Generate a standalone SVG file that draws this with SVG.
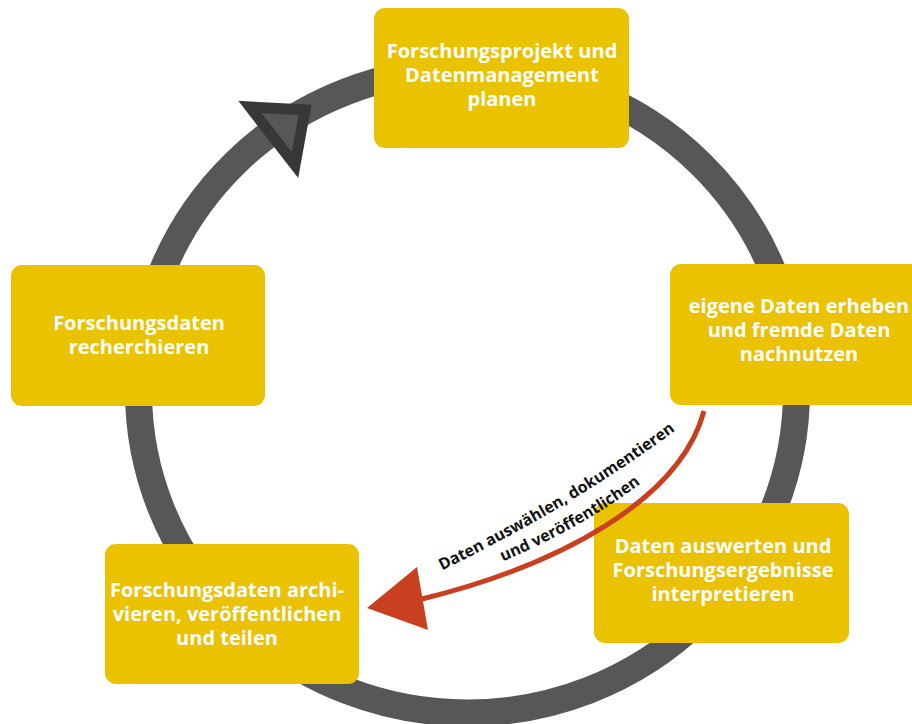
<svg xmlns="http://www.w3.org/2000/svg" width="912" height="724" viewBox="0 0 912 724">
<style>
.box{fill:#ebc200}
.lbl{font-family:"Open Sans","Liberation Sans",sans-serif;font-weight:700;font-size:20px;fill:#ffffff;text-anchor:middle}
.cur{font-family:"Open Sans","Liberation Sans",sans-serif;font-weight:700;font-size:16px;fill:#111111;text-anchor:middle}
</style>
<defs>
<path id="p1" d="M409,586 L437,573 Q575,506 680,427 L704,408"/>
<path id="p2" d="M471,575 L499,563 Q581,529 644,481 L668,463"/>
</defs>
<rect width="912" height="724" fill="#ffffff"/>
<g id="connectors">
<ellipse cx="467.5" cy="391" rx="329" ry="322" fill="none" stroke="#575757" stroke-width="27"/>
<path d="M250,107 L305,110 L295,165 Z" fill="#575757" stroke="#383838" stroke-width="11" stroke-linejoin="miter"/>
</g>
<g id="n1"><rect class="box" x="374" y="8" width="255" height="140" rx="11"/>
<text class="lbl" x="502" y="58">Forschungsprojekt und</text>
<text class="lbl" x="502" y="82">Datenmanagement</text>
<text class="lbl" x="502" y="106">planen</text></g>
<g id="n2"><rect class="box" x="670" y="264" width="260" height="141" rx="11"/>
<text class="lbl" x="799" y="313">eigene Daten erheben</text>
<text class="lbl" x="799" y="337">und fremde Daten</text>
<text class="lbl" x="799" y="361">nachnutzen</text></g>
<g id="n3"><rect class="box" x="594" y="503" width="255" height="140" rx="11"/>
<text class="lbl" x="723" y="553">Daten auswerten und</text>
<text class="lbl" x="723" y="577">Forschungsergebnisse</text>
<text class="lbl" x="723" y="601">interpretieren</text></g>
<g id="n4"><rect class="box" x="105" y="544" width="254" height="140" rx="11"/>
<text class="lbl" x="227" y="597">Forschungsdaten archi-</text>
<text class="lbl" x="227" y="621">vieren, veröffentlichen</text>
<text class="lbl" x="227" y="645">und teilen</text></g>
<g id="n5"><rect class="box" x="11" y="265" width="254" height="141" rx="11"/>
<text class="lbl" x="139" y="330">Forschungsdaten</text>
<text class="lbl" x="139" y="354">recherchieren</text></g>
<g id="arrow">
<path d="M704,411 C680,500 560,565 422,599" fill="none" stroke="#c8401f" stroke-width="5"/>
<polygon points="367,608 417,567 428,630" fill="#c8401f"/>
<text class="cur"><textPath href="#p1" startOffset="50%">Daten auswählen, dokumentieren</textPath></text>
<text class="cur"><textPath href="#p2" startOffset="50%">und veröffentlichen</textPath></text>
</g>
</svg>
